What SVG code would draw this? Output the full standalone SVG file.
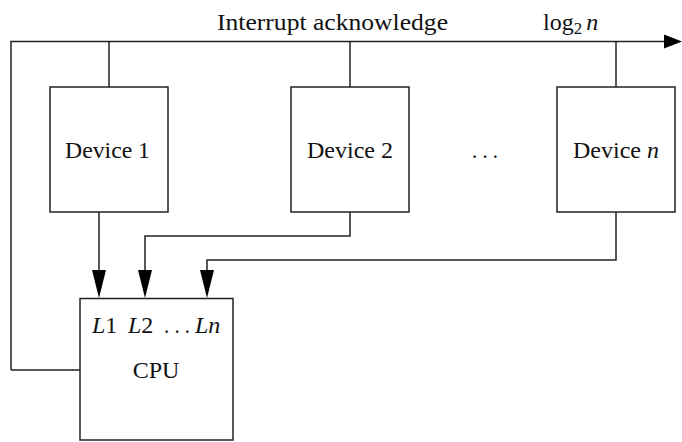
<svg xmlns="http://www.w3.org/2000/svg" width="682" height="442" viewBox="0 0 682 442">
<style>
.box{fill:#fff;stroke:#222;stroke-width:1.5}
.ln{fill:none;stroke:#222;stroke-width:1.5}
.ah{fill:#000;stroke:none}
text{font-family:"Liberation Serif","DejaVu Serif",serif;font-size:24px;fill:#111}
.it{font-style:italic}
</style>
<g id="connectors">
<path class="ln" d="M11,370 L11,41.5 L666,41.5"/>
<path class="ah" d="M664,34.5 L682,41.5 L664,48.5 Z"/>
<path class="ln" d="M11,370 L80,370"/>
<path class="ln" d="M109,41.5 L109,87"/>
<path class="ln" d="M350,41.5 L350,87"/>
<path class="ln" d="M616,41.5 L616,87"/>
<path class="ln" d="M99,212 L99,272"/>
<path class="ah" d="M92,270 L106,270 L99,298 Z"/>
<path class="ln" d="M350,212 L350,236 L145,236 L145,272"/>
<path class="ah" d="M138,270 L152,270 L145,298 Z"/>
<path class="ln" d="M616,212 L616,260 L207,260 L207,272"/>
<path class="ah" d="M200,270 L214,270 L207,298 Z"/>
</g>
<text x="217" y="30" textLength="231" lengthAdjust="spacingAndGlyphs">Interrupt acknowledge</text>
<text x="543" y="30">log<tspan font-size="17" dy="4">2</tspan><tspan class="it" dy="-4" dx="4">n</tspan></text>
<g id="device1">
<rect class="box" x="50" y="87" width="118" height="125"/>
<text x="65" y="158" textLength="85" lengthAdjust="spacingAndGlyphs">Device 1</text>
</g>
<g id="device2">
<rect class="box" x="291" y="87" width="118" height="125"/>
<text x="307" y="158" textLength="86" lengthAdjust="spacingAndGlyphs">Device 2</text>
</g>
<text x="472" y="158" textLength="26" lengthAdjust="spacingAndGlyphs">. . .</text>
<g id="devicen">
<rect class="box" x="557" y="87" width="118" height="125"/>
<text x="573" y="158" textLength="86" lengthAdjust="spacingAndGlyphs">Device <tspan class="it">n</tspan></text>
</g>
<g id="cpu">
<rect class="box" x="80" y="298.5" width="153" height="141.5"/>
<text x="92" y="333"><tspan class="it">L</tspan>1</text>
<text x="128" y="333"><tspan class="it">L</tspan>2</text>
<text x="164" y="333" textLength="26" lengthAdjust="spacingAndGlyphs">. . .</text>
<text x="195" y="333" class="it">Ln</text>
<text x="156" y="378" text-anchor="middle">CPU</text>
</g>
</svg>
